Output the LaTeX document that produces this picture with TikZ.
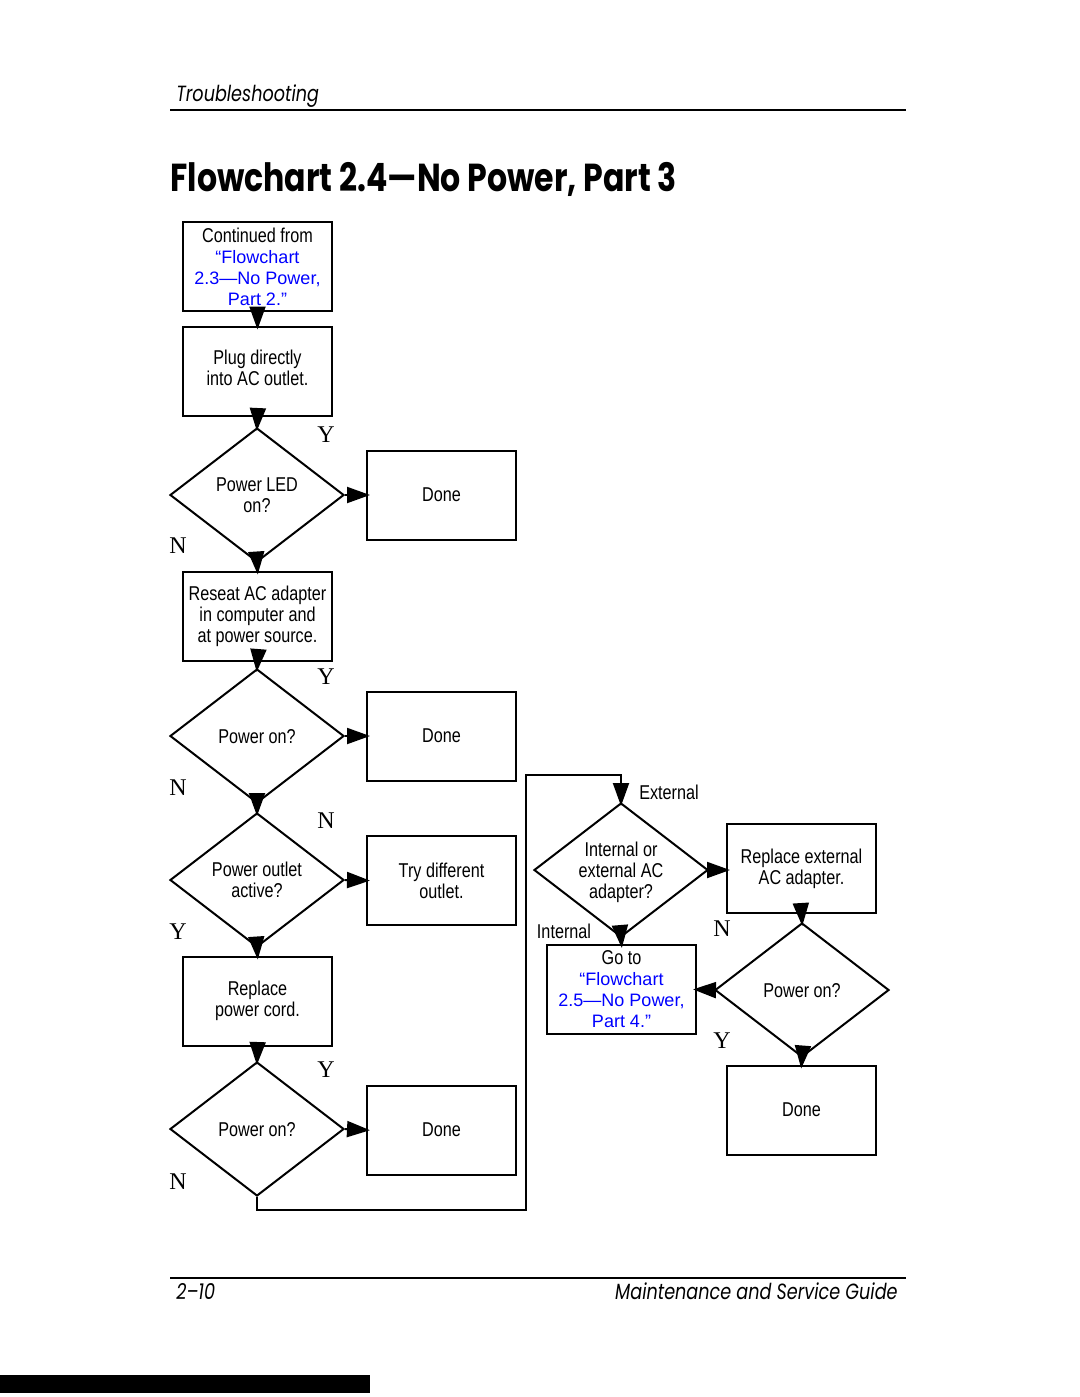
\documentclass[tikz,border=0pt]{standalone}
\usepackage{fontspec}
\setmainfont{Liberation Sans}[FakeStretch=0.81]
\newfontfamily\linkfont{Liberation Sans}[Ligatures=TeX]
\newfontfamily\ynfont{Liberation Serif}
\newfontfamily\headfont{Poppins}[FakeStretch=0.8,Ligatures=TeX]
\newfontfamily\titlefont{Poppins}[FakeStretch=0.81,Ligatures=TeX]
\usetikzlibrary{shapes.geometric,arrows.meta}
\newcommand{\LNK}[1]{\textcolor{blue}{\linkfont\fontsize{9}{10.5}\selectfont #1}}
\newcommand{\dtext}[1]{\makebox[0pt]{\smash{\raisebox{-4pt}{\begin{tabular}{@{}c@{}}#1\end{tabular}}}}}

\begin{document}
\begin{tikzpicture}[x=0.5pt,y=-0.5pt,
  node font=\fontsize{10}{10.5}\selectfont,
  box/.style={draw,line width=1pt,minimum width=74.5pt,minimum height=44.5pt,inner sep=1pt,align=center},
  dec/.style={draw,diamond,line width=1pt,minimum width=87pt,minimum height=67pt,inner sep=0pt},
  arr/.style={line width=1pt,shorten >=-2pt,-{Triangle[length=11.5pt,width=8pt]}},
  yn/.style={font=\ynfont\fontsize{12}{12}\selectfont},
  lbl/.style={inner sep=0pt}]

  \useasboundingbox (0,0) rectangle (1080,1397);

  % page header and footer
  \node[lbl,anchor=base west,font=\headfont\itshape\fontsize{11}{11}\selectfont] (head) at (176,101) {Troubleshooting};
  \draw[line width=0.7pt] (170,110) -- (906,110);
  \node[lbl,anchor=base west,font=\titlefont\bfseries\fontsize{19.5}{20}\selectfont] (title) at (170,191) {Flowchart 2.4---No Power, Part 3};
  \draw[line width=0.7pt] (170,1278) -- (906,1278);
  \node[lbl,anchor=base west,font=\headfont\itshape\fontsize{11}{11}\selectfont] (pgno) at (176,1299) {2--10};
  \node[lbl,anchor=base east,font=\headfont\itshape\fontsize{11}{11}\selectfont] (guide) at (898,1299) {Maintenance and Service Guide};
  \fill (0,1375) rectangle (370,1393);

  % left column
  \node[box] (cont) at (257.5,266.5) {Continued from\\\LNK{``Flowchart}\\\LNK{2.3---No Power,}\\\LNK{Part 2.''}};
  \node[box] (plug) at (257.5,371) {\raisebox{1.5pt}{\begin{tabular}{@{}c@{}}Plug directly\\into AC outlet.\end{tabular}}};
  \node[dec] (led) at (257,495) {\dtext{Power LED\\on?}};
  \node[box] (done1) at (441.5,495) {Done};
  \node[box] (reseat) at (257.5,616) {Reseat AC adapter\\in computer and\\at power source.};
  \node[dec] (pon1) at (257,736) {\dtext{Power on?}};
  \node[box] (done2) at (441.5,736) {Done};
  \node[dec] (outlet) at (257,880) {\dtext{Power outlet\\active?}};
  \node[box] (tryout) at (441.5,880.5) {Try different\\outlet.};
  \node[box] (cord) at (257.5,1001) {Replace\\power cord.};
  \node[dec] (pon2) at (257,1129) {\dtext{Power on?}};
  \node[box] (done3) at (441.5,1130) {Done};

  % right part
  \node[dec] (intext) at (621,870) {\dtext{Internal or\\external AC\\adapter?}};
  \node[box] (extad) at (801.5,868.5) {Replace external\\AC adapter.};
  \node[box] (goto) at (621.5,989.5) {Go to\\\LNK{``Flowchart}\\\LNK{2.5---No Power,}\\\LNK{Part 4.''}};
  \node[dec] (pon3) at (802,990) {\dtext{Power on?}};
  \node[box] (done4) at (801.5,1110) {Done};

  % branch labels
  \node[yn] (y1) at (326,435) {Y};
  \node[yn] (n1) at (178,546) {N};
  \node[yn] (y2) at (326,677) {Y};
  \node[yn] (n2) at (178,788) {N};
  \node[yn] (n3) at (326,821) {N};
  \node[yn] (y3) at (178,932) {Y};
  \node[yn] (y4) at (326,1070) {Y};
  \node[yn] (n4) at (178,1182) {N};
  \node[yn] (n5) at (722,929) {N};
  \node[yn] (y5) at (722,1041) {Y};
  \node (extl) at (669,792) {External};
  \node (intl) at (564,931) {Internal};

  \coordinate (lb) at (526,1210);
  \coordinate (lt) at (526,775);

  \draw[arr] (cont.south) -- (plug.north);
  \draw[arr] (plug.south) -- (led.north);
  \draw[arr] (led.east) -- (done1.west);
  \draw[arr] (led.south) -- (reseat.north);
  \draw[arr] (reseat.south) -- (pon1.north);
  \draw[arr] (pon1.east) -- (done2.west);
  \draw[arr] (pon1.south) -- (outlet.north);
  \draw[arr] (outlet.east) -- (tryout.west);
  \draw[arr] (outlet.south) -- (cord.north);
  \draw[arr] (cord.south) -- (pon2.north);
  \draw[arr] (pon2.east) -- (done3.west);
  \draw[arr] (pon2.south) |- (lb) -- (lt) -| (intext.north); % N -> adapter
  \draw[arr] (intext.east) -- (intext.east -| extad.west);
  \draw[arr] (intext.south) -- (goto.north);
  \draw[arr] (extad.south) -- (pon3.north);
  \draw[arr] (pon3.west) -- (goto.east);
  \draw[arr] (pon3.south) -- (done4.north);

\end{tikzpicture}
\end{document}
